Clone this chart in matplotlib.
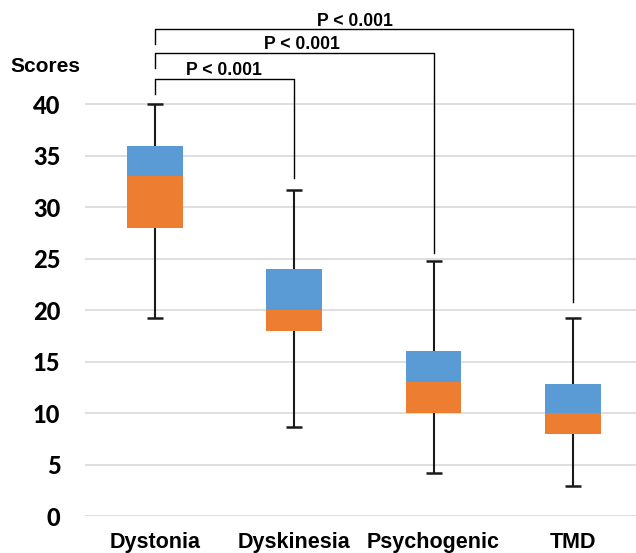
import matplotlib
matplotlib.use("Agg")
import matplotlib.pyplot as plt

# box plot summary per group
groups = ["Dystonia", "Dyskinesia", "Psychogenic", "TMD"]
mins = [19.3, 8.7, 4.2, 2.9]
q1 = [28, 18, 10, 8]
medians = [33, 20, 13, 10]
q3 = [36, 24, 16, 12.8]
maxs = [40, 31.7, 24.8, 19.3]

# significance brackets: Dystonia vs each other group
pairs = [(0, 1), (0, 2), (0, 3)]
bracket_y = [42.5, 45.0, 47.3]
left_end = [41.0, 43.5, 45.9]
right_end = [32.8, 25.6, 20.8]
p_labels = ["P < 0.001", "P < 0.001", "P < 0.001"]
p_label_x = [0.495, 1.055, 1.436]

blue = "#5B9BD5"
orange = "#ED7D31"

fig = plt.figure(figsize=(6.36, 5.53), dpi=100)
ax = fig.add_axes([0.1343, 0.0664, 1 - 0.1343, 1 - 0.0664])

x = list(range(len(groups)))
w = 0.40
lower = [m - a for m, a in zip(medians, q1)]
upper = [b - m for b, m in zip(q3, medians)]
ax.bar(x, lower, bottom=q1, width=w, color=orange, zorder=3)
ax.bar(x, upper, bottom=medians, width=w, color=blue, zorder=3)

# whiskers and caps
ax.vlines(x, mins, q1, color="#1a1a1a", lw=1.5, zorder=2)
ax.vlines(x, q3, maxs, color="#1a1a1a", lw=1.5, zorder=2)
cap = 0.058
for xi, lo, hi in zip(x, mins, maxs):
    ax.hlines([lo, hi], xi - cap, xi + cap, color="#1a1a1a", lw=1.8, zorder=2)

# brackets
for (a, b), yb, ya, yr, lab, tx in zip(pairs, bracket_y, left_end, right_end, p_labels, p_label_x):
    ax.plot([a, a, b, b], [ya, yb, yb, yr], color="black", lw=1.0, zorder=4)
    ax.text(tx, yb + 0.35, lab, ha="center", va="baseline", fontsize=12.7,
            fontweight="bold", family="Liberation Sans")

ax.set_xlim(-0.5, 3.453)
ax.set_ylim(0, 50.13)
ax.set_yticks(range(0, 45, 5))
ax.set_yticklabels([str(v) for v in range(0, 45, 5)], fontsize=17,
                   fontweight=900, family="Lato")
ax.set_xticks(x)
ax.set_xticklabels(groups, fontsize=15.5, fontweight="bold", family="Liberation Sans")
ax.tick_params(axis="y", length=0, pad=18)
ax.tick_params(axis="x", length=0, pad=11)
ax.grid(axis="y", color="#D9D9D9", lw=1.2, zorder=0)
ax.set_axisbelow(True)
for s in ax.spines.values():
    s.set_visible(False)

fig.text(10 / 636, 1 - 67 / 553, "Scores", ha="left", va="center", fontsize=15,
         fontweight="bold", family="Liberation Sans")

fig.savefig("out.png", dpi=100)
